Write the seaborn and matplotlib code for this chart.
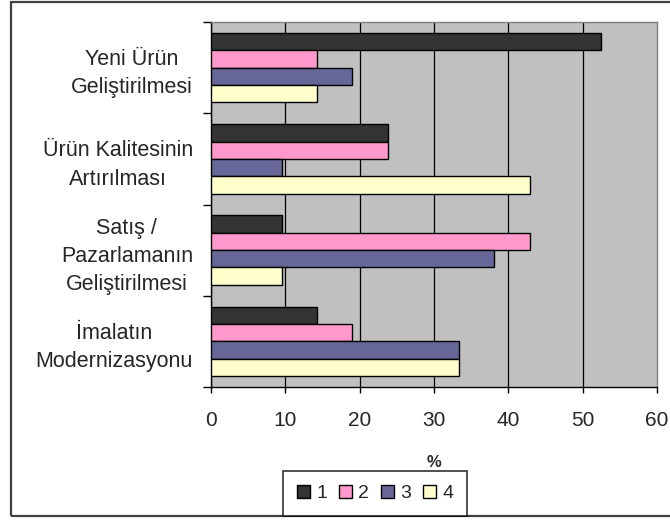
import pandas as pd
import seaborn as sns
import matplotlib.pyplot as plt
from matplotlib.patches import Rectangle

categories = ["Yeni Ürün\nGeliştirilmesi",
              "Ürün Kalitesinin\nArtırılması",
              "Satış /\nPazarlamanın\nGeliştirilmesi",
              "İmalatın\nModernizasyonu"]
series = ["1", "2", "3", "4"]
values_1 = [52.4, 23.8, 9.5, 14.3]
values_2 = [14.3, 23.8, 42.9, 19.0]
values_3 = [19.0, 9.5, 38.1, 33.3]
values_4 = [14.3, 42.9, 9.5, 33.3]
colors = ["#333333", "#FF99CC", "#666699", "#FFFFCC"]
xticks = [0, 10, 20, 30, 40, 50, 60]

rows = []
for s, vals in zip(series, [values_1, values_2, values_3, values_4]):
    for c, v in zip(categories, vals):
        rows.append({"kategori": c, "seri": s, "yuzde": v})
df = pd.DataFrame(rows)

sns.set_theme(style="white")
plt.rcParams['font.family'] = ['Liberation Sans', 'DejaVu Sans']

fig = plt.figure(figsize=(6.7, 5.23), dpi=100)
fig.patch.set_facecolor("white")
ax = fig.add_axes([211 / 670, 1 - 387 / 523, 446 / 670, 365 / 523])

sns.barplot(data=df, x="yuzde", y="kategori", hue="seri", orient="h",
            palette=colors, saturation=1, width=0.76,
            edgecolor="black", linewidth=1.0, ax=ax, zorder=3)

handles, labels = ax.get_legend_handles_labels()
ax.get_legend().remove()

ax.set_facecolor("#C0C0C0")
ax.set_xlim(0, 60)
ax.set_xticks(xticks)
ax.set_xticklabels([str(t) for t in xticks], fontsize=15)
ax.xaxis.grid(True, color="black", linewidth=0.9, zorder=1)
ax.set_axisbelow(True)
ax.get_xgridlines()[-1].set_visible(False)

# group borders as major ticks, names as minor tick labels
ax.set_yticks([-0.5, 0.5, 1.5, 2.5, 3.5])
ax.set_yticklabels([])
ax.set_yticks(range(len(categories)), minor=True)
ax.set_yticklabels(categories, minor=True, fontsize=15.5)
for t in ax.get_yticklabels(minor=True):
    t.set_multialignment("center")
    t.set_linespacing(1.45)
ax.set_ylim(3.5, -0.5)

ax.tick_params(axis="y", which="major", direction="out", length=6, width=1, color="black", left=True)
ax.tick_params(axis="y", which="minor", length=0, pad=13)
ax.tick_params(axis="x", direction="out", length=4, width=1, color="black", pad=13, bottom=True)

for side in ["left", "bottom"]:
    ax.spines[side].set_color("black")
    ax.spines[side].set_linewidth(1)
for side in ["top", "right"]:
    ax.spines[side].set_color("#808080")
    ax.spines[side].set_linewidth(1)

ax.set_ylabel("")
ax.set_xlabel("%", fontsize=12, fontweight="bold", labelpad=18)

leg = fig.legend(handles, labels, loc="lower center", ncol=4,
                 bbox_to_anchor=(375 / 670, 7 / 523), fontsize=14,
                 frameon=True, fancybox=False, shadow=False,
                 handlelength=0.7, handleheight=0.7, handletextpad=0.3,
                 columnspacing=0.6, borderpad=0.7, borderaxespad=0)
leg.get_frame().set_edgecolor("black")
leg.get_frame().set_linewidth(1.2)

fig.patches.append(Rectangle((10.5 / 670, 7 / 523), 1.0, 514 / 523,
                             transform=fig.transFigure, fill=False,
                             edgecolor="#404040", linewidth=1.6, zorder=0))

plt.savefig("out.png", dpi=100)
